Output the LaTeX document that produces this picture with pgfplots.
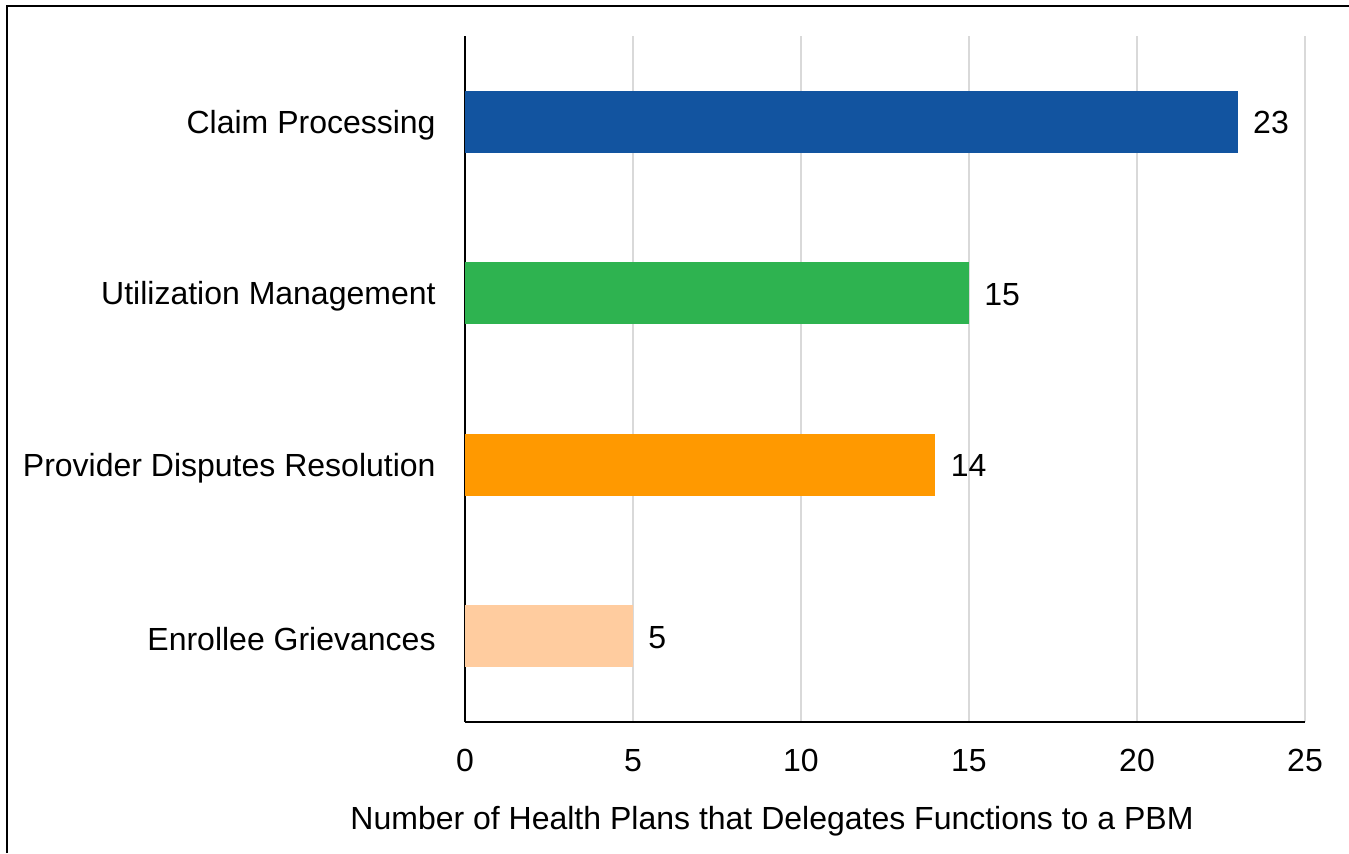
\documentclass[border=0pt]{standalone}
\usepackage{fontspec}
\setmainfont{Liberation Sans}
\usepackage{pgfplots}
\pgfplotsset{compat=1.18}
\definecolor{cblue}{RGB}{18,84,160}
\definecolor{cgreen}{RGB}{46,179,80}
\definecolor{corange}{RGB}{255,153,0}
\definecolor{cpeach}{RGB}{255,204,159}
\definecolor{cgrid}{RGB}{217,217,217}
\begin{document}
\begin{tikzpicture}
\useasboundingbox (0,0) rectangle (674.5pt,426.5pt);
\draw[line width=1pt] (3.5pt,0) -- (3.5pt,423.5pt) -- (674.5pt,423.5pt);
\begin{axis}[
  at={(232.5pt,65.5pt)}, anchor=south west,
  scale only axis, width=420pt, height=343pt,
  xmin=0, xmax=25, ymin=-0.5, ymax=3.5,
  xtick={0,5,10,15,20,25},
  ytick={0,1,2,3},
  yticklabels={Enrollee Grievances,Provider Disputes Resolution,Utilization Management,Claim Processing},
  major tick length=0pt,
  axis x line=bottom, axis y line=left,
  axis line style={-, black, line width=1pt},
  xmajorgrids, major grid style={cgrid, line width=1pt},
  /pgf/number format/assume math mode=true,
  tick label style={font=\fontsize{16}{19}\selectfont, text=black},
  xticklabel style={anchor=north, inner sep=0pt, yshift=-13.5pt},
  yticklabel style={anchor=east, inner sep=0pt, xshift=-14.5pt, yshift=-1.5pt},
  xlabel={Number of Health Plans that Delegates Functions to a PBM},
  xlabel style={font=\fontsize{16}{19}\selectfont, at={(axis description cs:0.3655,-0.145)}, anchor=center},
  xbar, bar width=31pt, bar shift=0pt,
  nodes near coords,
  every node near coord/.append style={font=\fontsize{16}{19}\selectfont, anchor=west, inner sep=0pt, xshift=7.5pt, yshift=-0.5pt, text=black},
  clip=false,
]
\addplot[draw=none, fill=cblue] coordinates {(23,3)};
\addplot[draw=none, fill=cgreen] coordinates {(15,2)};
\addplot[draw=none, fill=corange] coordinates {(14,1)};
\addplot[draw=none, fill=cpeach] coordinates {(5,0)};
\end{axis}
\end{tikzpicture}
\end{document}
